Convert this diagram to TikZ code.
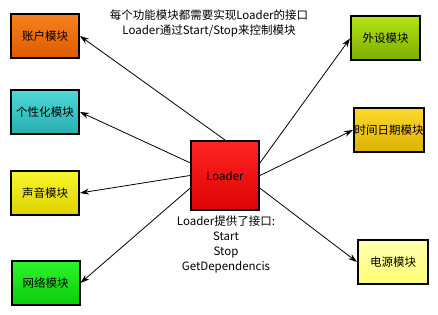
\documentclass[tikz,border=0pt]{standalone}
\usepackage{fontspec}
\setmainfont{Noto Sans CJK SC}
\usepackage{tikz}
\usetikzlibrary{arrows.meta, shapes, calc}
\definecolor{zhanghuA}{HTML}{F6821E}
\definecolor{zhanghuB}{HTML}{DE5A00}
\definecolor{gexingA}{HTML}{50D8D8}
\definecolor{gexingB}{HTML}{28AEAE}
\definecolor{shengyinA}{HTML}{FAF62C}
\definecolor{shengyinB}{HTML}{DCD200}
\definecolor{wangluoA}{HTML}{2CF42C}
\definecolor{wangluoB}{HTML}{0CCC0C}
\definecolor{waisheA}{HTML}{B4E412}
\definecolor{waisheB}{HTML}{7CAC00}
\definecolor{shijianA}{HTML}{FCD82C}
\definecolor{shijianB}{HTML}{DEB200}
\definecolor{dianyuanA}{HTML}{FFFFB0}
\definecolor{dianyuanB}{HTML}{FFFF74}
\definecolor{loaderA}{HTML}{FF2424}
\definecolor{loaderB}{HTML}{DC0404}

\begin{document}
\begin{tikzpicture}[x=1pt, y=-1pt,
  every node/.style={font=\fontsize{11.5}{15}\selectfont},
  mod/.style={draw, line width=2pt, inner sep=0pt, minimum width=68pt,
    minimum height=44pt, shading angle=45, top color=#1A, bottom color=#1B},
  link/.style={-{Stealth[length=9pt, width=6pt]}, line width=0.8pt}]
\useasboundingbox (0,0) rectangle (438,315);
\node[mod=zhanghu] (zhanghu) at (45,36) {账户模块};
\node[mod=gexing] (gexing) at (45,112) {个性化模块};
\node[mod=shengyin] (shengyin) at (45,193) {声音模块};
\node[mod=wangluo] (wangluo) at (45.5,283) {网络模块};
\node[mod=waishe, minimum width=69pt] (waishe) at (385.5,38.5) {外设模块};
\node[mod=shijian, minimum width=70pt] (shijian) at (389,130) {时间日期模块};
\node[mod=dianyuan, minimum width=70pt] (dianyuan) at (393,262) {电源模块};
\node[mod=loader, minimum height=69pt] (loader) at (225,175.5) {Loader};
\draw[link] (loader.north) -- (zhanghu.east);
\draw[link] (loader.160) -- (gexing.east);
\draw[link] (loader.west) -- (shengyin.east);
\draw[link] (loader.200) -- (wangluo.east);
\draw[link] (loader.20) -- (waishe.west);
\draw[link] (loader.east) -- (shijian.west);
\draw[link] (loader.340) -- (dianyuan.west);
\node[align=center] (goal) at (209,23.5) {每个功能模块都需要实现Loader的接口\\Loader通过Start/Stop来控制模块};
\node[align=center] (api) at (226,244) {Loader提供了接口:\\Start\\Stop\\GetDependencis};
\end{tikzpicture}
\end{document}
